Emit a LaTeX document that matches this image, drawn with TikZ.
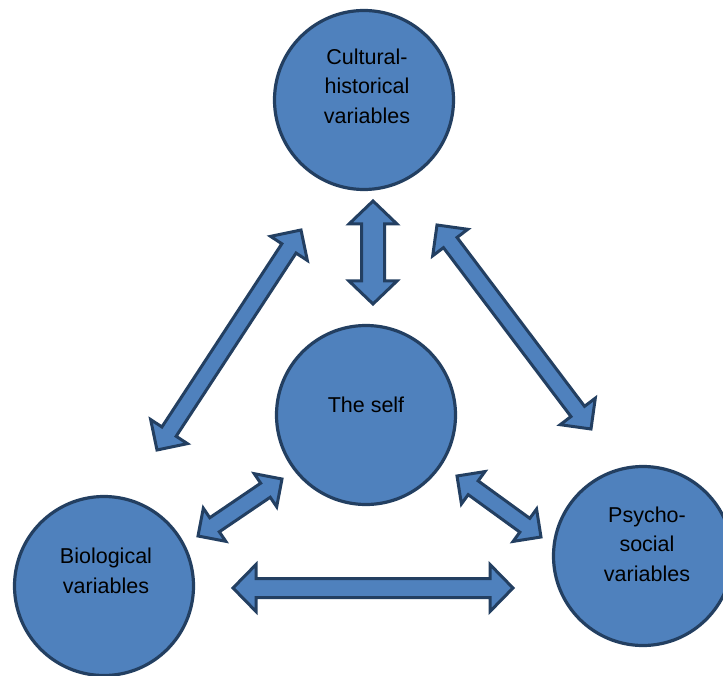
\documentclass[tikz,border=0pt]{standalone}
\usepackage{fontspec}
\setmainfont{Liberation Sans}
\usetikzlibrary{calc}

\definecolor{boxfill}{HTML}{4F81BD}
\definecolor{boxline}{HTML}{233F61}

% Double-headed block arrow between two named points:
% #1 from, #2 to, #3 shaft half width, #4 head half width, #5 head length
\newcommand\dblarrow[5]{%
  \draw[arrowbox] (#1)
    -- ($(#1)!#5!(#2)!#4!90:(#2)$)
    -- ($(#1)!#5!(#2)!#3!90:(#2)$)
    -- ($(#2)!#5!(#1)!#3!-90:(#1)$)
    -- ($(#2)!#5!(#1)!#4!-90:(#1)$)
    -- (#2)
    -- ($(#2)!#5!(#1)!#4!90:(#1)$)
    -- ($(#2)!#5!(#1)!#3!90:(#1)$)
    -- ($(#1)!#5!(#2)!#3!-90:(#2)$)
    -- ($(#1)!#5!(#2)!#4!-90:(#2)$)
    -- cycle;}

\begin{document}
\begin{tikzpicture}[x=1pt,y=-1pt,
  bubble/.style={circle, draw=boxline, fill=boxfill, line width=3.2pt,
    minimum size=179pt, inner sep=0pt},
  caption/.style={align=center, font=\fontsize{21.5pt}{29.5pt}\selectfont},
  arrowbox/.style={draw=boxline, fill=boxfill, line width=3pt, line join=miter}]
\useasboundingbox (0,0) rectangle (723,676);

% circles
\node[bubble] (culture) at (364,100) {};
\node[bubble] (self)    at (366,415) {};
\node[bubble] (bio)     at (104,586) {};
\node[bubble] (psych)   at (643,556) {};

% labels inside the circles
\node[caption] (tculture) at ($(culture.center)+(3,-14)$) {Cultural-\\historical\\variables};
\node[caption] (tself) at ($(self.center)+(0,-10)$) {The self};
\node[caption] (tbio) at ($(bio.center)+(2,-15)$) {Biological\\variables};
\node[caption] (tpsych) at ($(psych.center)+(4,-12)$) {Psycho-\\social\\variables};

% arrow end points
\coordinate (v1) at (373,201);
\coordinate (v2) at (373,304);
\coordinate (l1) at (301,230);
\coordinate (l2) at (157,450);
\coordinate (r1) at (437,225);
\coordinate (r2) at (591,429);
\coordinate (sl1) at (198,536);
\coordinate (sl2) at (282,479);
\coordinate (sr1) at (457,476);
\coordinate (sr2) at (541,537);
\coordinate (h1) at (233,588);
\coordinate (h2) at (513,588);

% block arrows
\dblarrow{v1}{v2}{11.5pt}{24pt}{23pt}
\dblarrow{l1}{l2}{8.5pt}{22pt}{22pt}
\dblarrow{r1}{r2}{8.5pt}{22pt}{22pt}
\dblarrow{sl1}{sl2}{8.5pt}{20pt}{20pt}
\dblarrow{sr1}{sr2}{8.5pt}{20pt}{20pt}
\dblarrow{h1}{h2}{9.5pt}{23.5pt}{23pt}
\end{tikzpicture}
\end{document}
